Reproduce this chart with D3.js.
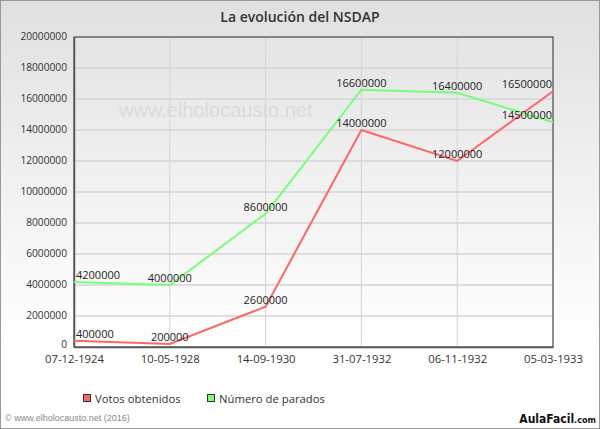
<!DOCTYPE html>
<html>
  <head>
    <style>
      body { margin: 0; }
      svg { display: block; }
      .tick text { font: 10.2px "Open Sans", sans-serif; fill: #333; }
      .val-label { font: 11px "Open Sans", sans-serif; fill: #222; }
      .legend-text { font: 11.3px "Open Sans", sans-serif; fill: #333; }
    </style>
  </head>
  <body>
    <svg></svg>
    <script src="https://d3js.org/d3.v7.min.js"></script>
    <script>
      // Data
      const fechas = ["07-12-1924", "10-05-1928", "14-09-1930", "31-07-1932", "06-11-1932", "05-03-1933"];
      const votos = [400000, 200000, 2600000, 14000000, 12000000, 16500000];
      const parados = [4200000, 4000000, 8600000, 16600000, 16400000, 14500000];
      const yTicks = [0, 2000000, 4000000, 6000000, 8000000, 10000000, 12000000, 14000000, 16000000, 18000000, 20000000];
      const seriesNames = ["Votos obtenidos", "Número de parados"];

      const W = 600, H = 429;
      const margin = { top: 37, right: 47, bottom: 82, left: 74 };
      const width = W - margin.left - margin.right;
      const height = H - margin.top - margin.bottom;

      const svg = d3.select("svg").attr("width", W).attr("height", H);

      // gradients
      const defs = svg.append("defs");
      const bg = defs.append("linearGradient").attr("id", "bg").attr("x1", 0).attr("y1", 0).attr("x2", 0).attr("y2", 1);
      bg.append("stop").attr("offset", "0%").attr("stop-color", "#e0e0e0");
      bg.append("stop").attr("offset", "80%").attr("stop-color", "#ffffff");
      bg.append("stop").attr("offset", "100%").attr("stop-color", "#ffffff");
      const pg = defs.append("linearGradient").attr("id", "pg").attr("x1", 0).attr("y1", 0).attr("x2", 0).attr("y2", 1);
      pg.append("stop").attr("offset", "0%").attr("stop-color", "#e4e4e4");
      pg.append("stop").attr("offset", "100%").attr("stop-color", "#ffffff");

      svg.append("rect").attr("x", 0.5).attr("y", 0.5).attr("width", W - 1).attr("height", H - 1)
        .attr("fill", "url(#bg)").attr("stroke", "#999");

      // title
      svg.append("text").attr("x", W / 2).attr("y", 22).attr("text-anchor", "middle")
        .style("font", "600 14px 'Open Sans', sans-serif").attr("fill", "#333")
        .text("La evolución del NSDAP");

      const g = svg.append("g").attr("transform", `translate(${margin.left},${margin.top})`);

      const x = d3.scalePoint().domain(fechas).range([0, width]);
      const y = d3.scaleLinear().domain([0, 20000000]).range([height, 0]);

      g.append("rect").attr("width", width).attr("height", height).attr("fill", "url(#pg)");

      // grid lines
      g.append("g").selectAll("line").data(yTicks).enter().append("line")
        .attr("x1", 0).attr("x2", width)
        .attr("y1", d => y(d)).attr("y2", d => y(d))
        .attr("stroke", "#d4d4d4").attr("stroke-width", 1.5);
      g.append("g").selectAll("line").data(fechas).enter().append("line")
        .attr("x1", d => x(d)).attr("x2", d => x(d))
        .attr("y1", 0).attr("y2", height)
        .attr("stroke", "#d4d4d4").attr("stroke-width", 1);

      // watermark
      g.append("text").attr("x", 45).attr("y", 80)
        .style("font", "20px 'Liberation Sans', Arial, sans-serif").attr("fill", "#dadada")
        .text("www.elholocausto.net");

      // frame
      g.append("rect").attr("width", width).attr("height", height)
        .attr("fill", "none").attr("stroke", "#333").attr("stroke-width", 1);

      // axes
      const yAxis = g.append("g").call(d3.axisLeft(y).tickValues(yTicks).tickSize(0).tickPadding(7).tickFormat(d3.format("d")));
      yAxis.select(".domain").attr("stroke", "#555").attr("stroke-width", 1.5);
      yAxis.selectAll(".tick text").attr("dy", d => d === 0 ? "0em" : "0.2em");
      const xAxis = g.append("g").attr("transform", `translate(0,${height})`)
        .call(d3.axisBottom(x).tickSize(0).tickPadding(8));
      xAxis.select(".domain").attr("stroke", "#555").attr("stroke-width", 1.5);
      xAxis.selectAll(".tick text").style("font-size", "11.3px");

      // series
      const series = [
        { name: seriesNames[0], values: votos, color: "#ff6666" },
        { name: seriesNames[1], values: parados, color: "#77ff77" }
      ];
      const line = d3.line().x((d, i) => x(fechas[i])).y(d => y(d));

      series.forEach(s => {
        g.append("path").datum(s.values).attr("d", line)
          .attr("fill", "none").attr("stroke", s.color).attr("stroke-width", 2);
      });

      series.forEach(s => {
        g.selectAll(null).data(s.values).enter().append("text")
          .attr("class", "val-label")
          .attr("x", (d, i) => x(fechas[i]))
          .attr("y", d => y(d) - 3)
          .attr("text-anchor", "middle")
          .text(d => d)
          .each(function () {
            // keep the labels inside the plot area
            const b = this.getBBox();
            let dx = 0;
            if (b.x < 2) dx = 2 - b.x;
            if (b.x + b.width > width - 1) dx = width - 1 - (b.x + b.width);
            d3.select(this).attr("x", +d3.select(this).attr("x") + dx);
          });
      });

      // legend
      const legend = svg.append("g").attr("transform", "translate(83,394)");
      const legX = [0, 124];
      series.forEach((s, i) => {
        const lg = legend.append("g").attr("transform", `translate(${legX[i]},0)`);
        lg.append("rect").attr("x", 0.5).attr("y", 0.5).attr("width", 7).attr("height", 7)
          .attr("fill", s.color).attr("stroke", "#333");
        lg.append("text").attr("class", "legend-text").attr("x", 12).attr("y", 8.5).text(s.name);
      });

      // footer
      svg.append("text").attr("x", 5).attr("y", 421)
        .style("font", "9px 'Liberation Sans', Arial, sans-serif").attr("fill", "#888")
        .text("© www.elholocausto.net (2016)");
      const af = svg.append("text").attr("x", 596).attr("y", 423).attr("text-anchor", "end")
        .style("font", "bold 12px 'DejaVu Sans Condensed', 'DejaVu Sans', sans-serif").attr("fill", "#111");
      af.append("tspan").text("AulaFacil");
      af.append("tspan").style("font-size", "9px").text(".com");
    </script>
  </body>
</html>
